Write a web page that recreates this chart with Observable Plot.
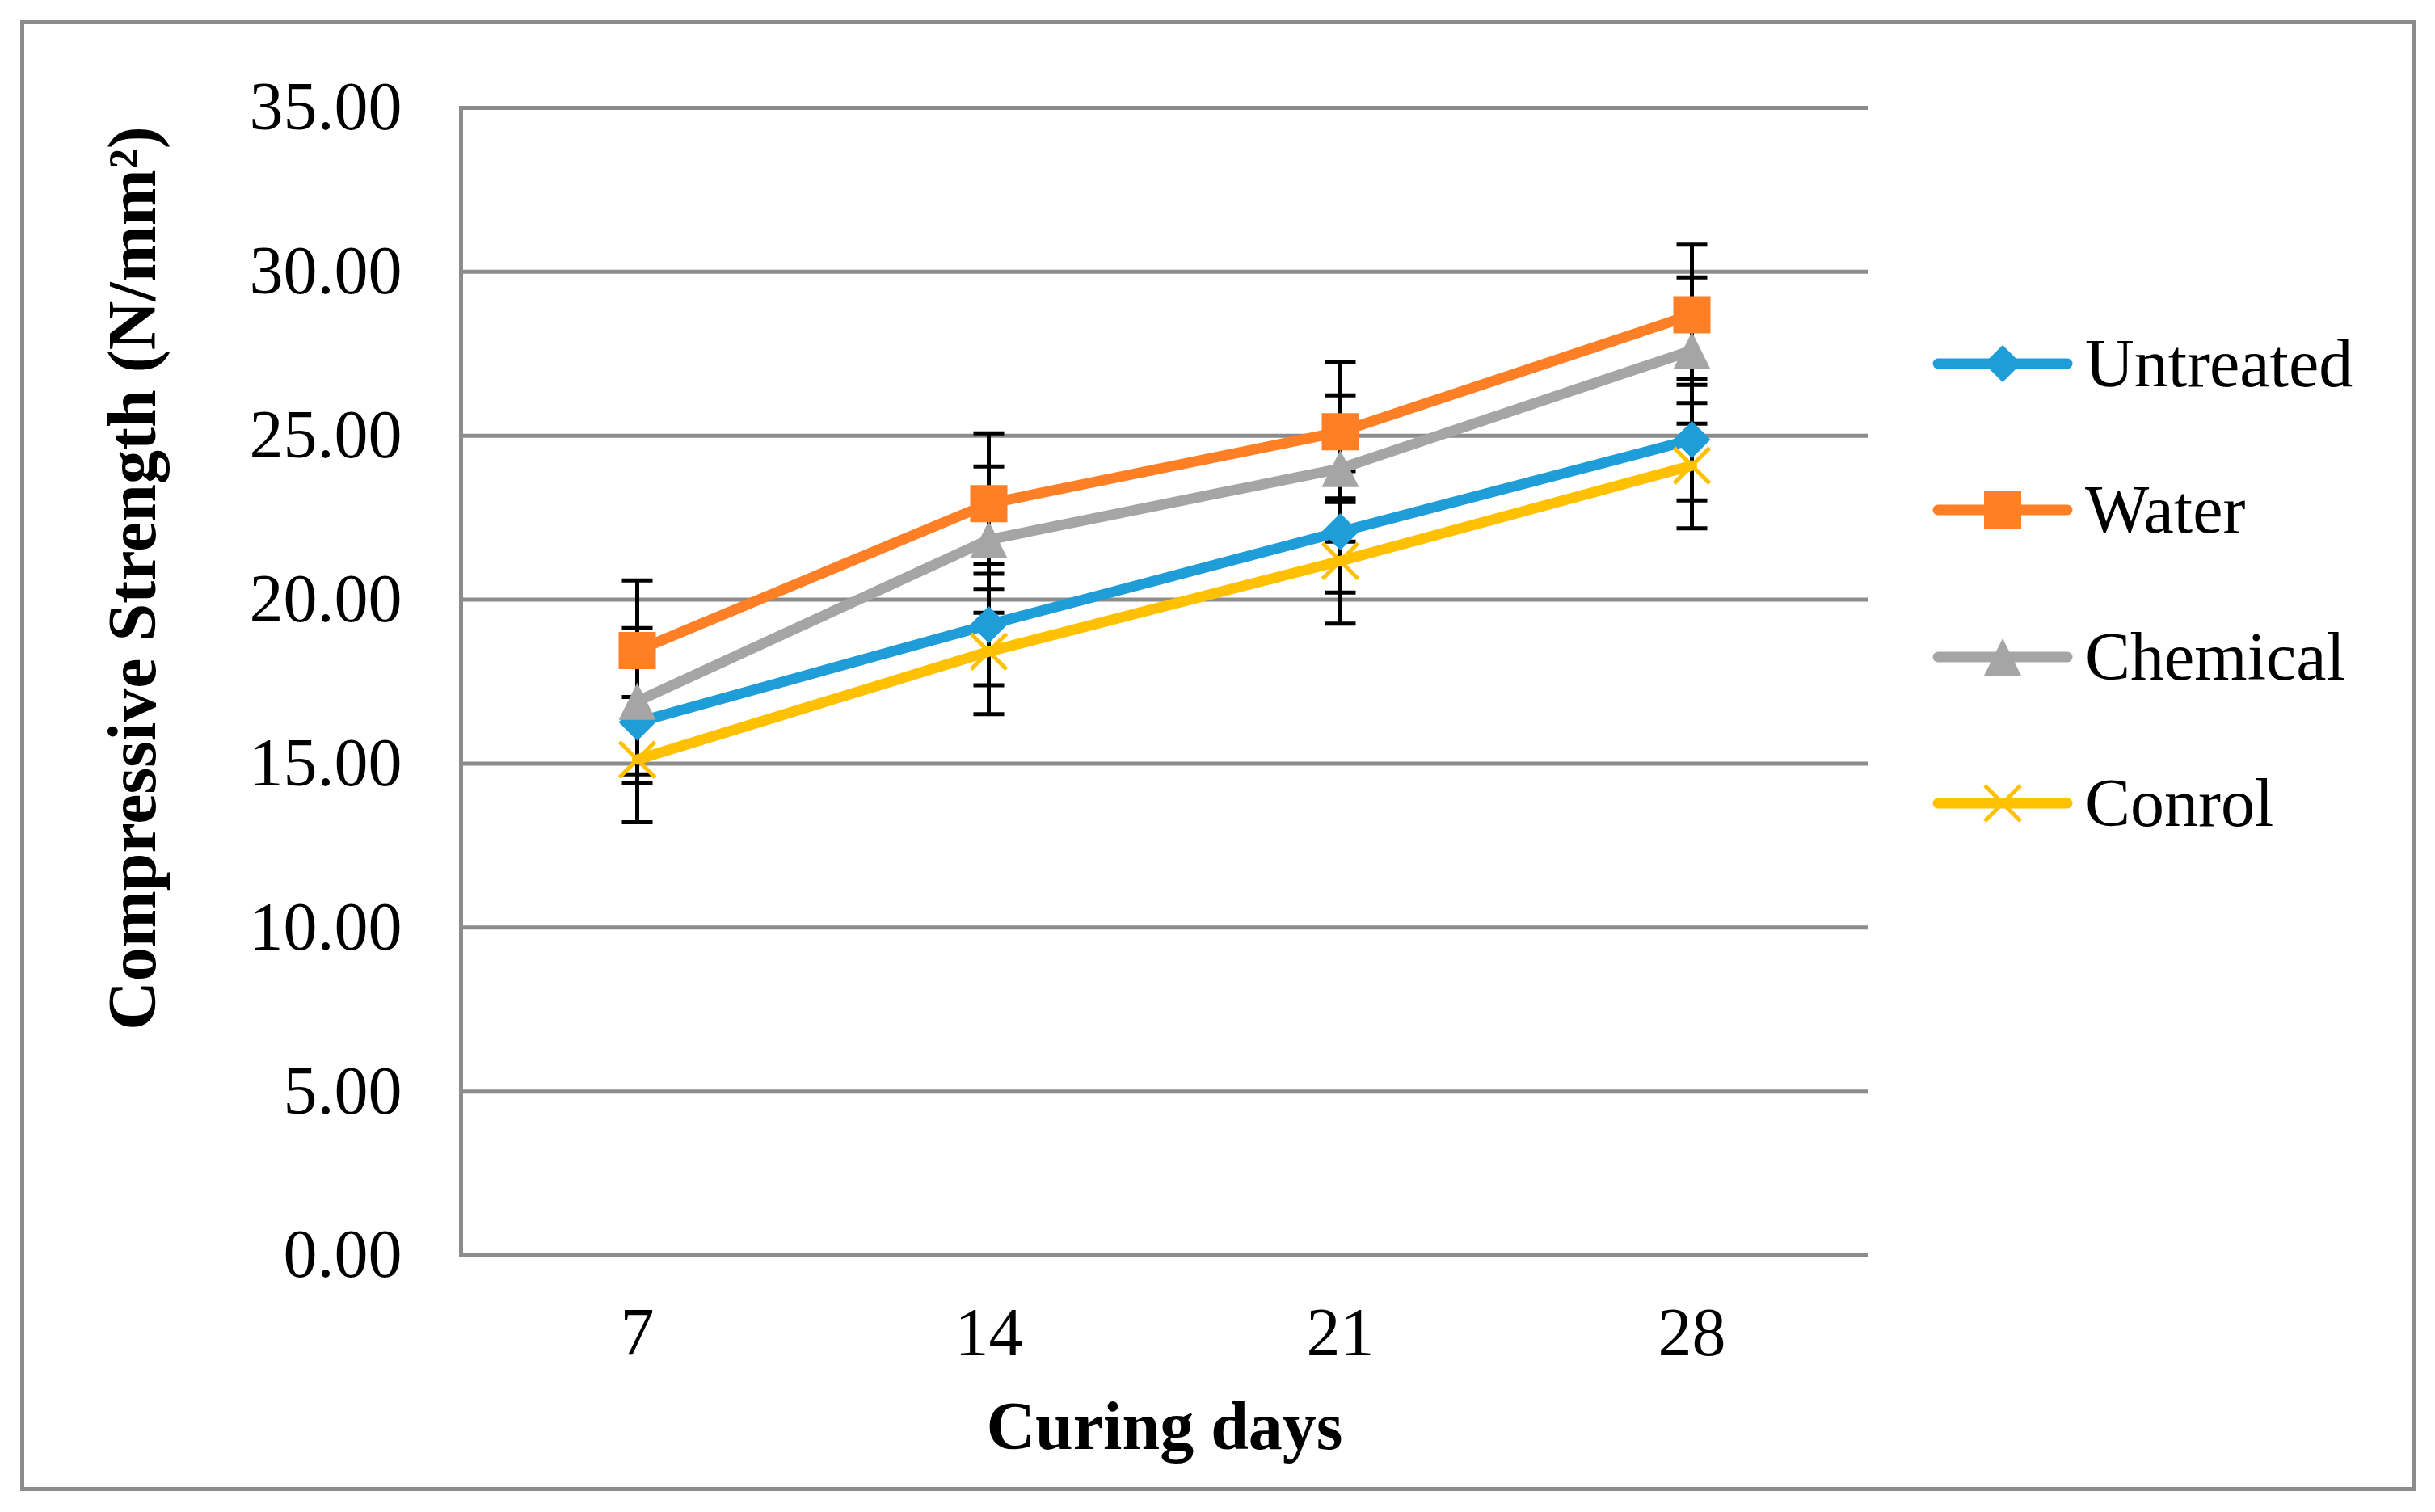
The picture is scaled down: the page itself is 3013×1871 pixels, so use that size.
<!DOCTYPE html>
<html>
<head>
<meta charset="utf-8">
<script src="https://cdn.jsdelivr.net/npm/d3@7"></script>
<script src="https://cdn.jsdelivr.net/npm/@observablehq/plot@0.6"></script>
<style>
  html, body { margin: 0; padding: 0; background: #fff; }
  #wrap { position: relative; width: 3013px; height: 1871px; background: #fff; overflow: hidden; }
  #border { position: absolute; left: 25px; top: 25px; width: 2965px; height: 1820px; border: 5px solid #8c8c8c; box-sizing: border-box; }
  #chart { position: absolute; left: 0; top: 0; }
  #chart svg [aria-label$="axis label"] text { font-weight: bold; }
  #legend { position: absolute; left: 2390px; top: 0; font-family: "Liberation Serif", "Times New Roman", serif; font-size: 84px; color: #000; }
  .lrow { position: absolute; left: 0; display: flex; align-items: center; height: 80px; white-space: nowrap; }
  .lrow svg { display: block; }
  .lrow span { margin-left: 14px; line-height: 80px; }
</style>
</head>
<body>
<div id="wrap">
  <div id="border"></div>
  <div id="chart"></div>
  <div id="legend"></div>
</div>
<script>
// ---- data ----
const days = ["7", "14", "21", "28"];
const series = ["Untreated", "Water", "Chemical", "Conrol"];
const untreated = [16.26, 19.24, 22.07, 24.88];
const water = [18.45, 22.93, 25.12, 28.69];
const chemical = [16.90, 21.83, 24.00, 27.60];
const conrol = [15.12, 18.42, 21.18, 24.09];
const errors = [1.85, 2.14, 2.23, 1.91];
const colors = ["#1F9DD9", "#FF7F27", "#A5A5A5", "#FFC000"];
const yTicks = [0, 5, 10, 15, 20, 25, 30, 35];
const yTitle = "Compressive Strength (N/mm²)";
const xTitle = "Curing days";

const values = [untreated, water, chemical, conrol];
const rows = [];
series.forEach((s, i) => days.forEach((d, j) => rows.push({series: s, day: d, value: values[i][j], err: errors[i]})));

// ---- custom symbols ----
const rad = (size) => Math.sqrt(size / Math.PI);
const diamond = {draw(c, size) { const r = rad(size); c.moveTo(0, -r); c.lineTo(r, 0); c.lineTo(0, r); c.lineTo(-r, 0); c.closePath(); }};
const square = {draw(c, size) { const r = rad(size); c.moveTo(-r, -r); c.lineTo(r, -r); c.lineTo(r, r); c.lineTo(-r, r); c.closePath(); }};
const triangle = {draw(c, size) { const r = rad(size); c.moveTo(0, -r); c.lineTo(r, r); c.lineTo(-r, r); c.closePath(); }};
const cross = {draw(c, size) { const r = rad(size); c.moveTo(-r, -r); c.lineTo(r, r); c.moveTo(-r, r); c.lineTo(r, -r); }};
const cap = {draw(c, size) { const r = rad(size); c.moveTo(-r, 0); c.lineTo(r, 0); }};
const symbols = [diamond, square, triangle, cross];

const plot = Plot.plot({
  width: 3013,
  height: 1871,
  marginLeft: 570,
  marginRight: 702,
  marginTop: 133,
  marginBottom: 318,
  style: {fontFamily: "'Liberation Serif', 'Times New Roman', serif", fontSize: "84px", background: "transparent", color: "#000"},
  x: {type: "point", domain: days, padding: 0.5},
  y: {domain: [0, 35]},
  color: {domain: series, range: colors},
  symbol: {domain: series, range: symbols},
  marks: [
    Plot.ruleY(yTicks, {stroke: "#8c8c8c", strokeWidth: 5}),
    Plot.frame({anchor: "left", stroke: "#8c8c8c", strokeWidth: 5}),
    Plot.axisY({ticks: yTicks, tickFormat: d3.format(".2f"), tickSize: 0, tickPadding: 73, fontSize: 84, label: null}),
    Plot.text([yTitle], {text: d => d, frameAnchor: "left", rotate: -90, dx: -438, dy: -128,
      lineAnchor: "top", textAnchor: "middle", fontWeight: "bold", fontSize: 84}),
    Plot.axisX({tickSize: 0, tickPadding: 64, fontSize: 84,
      label: xTitle, labelAnchor: "center", labelArrow: "none", labelOffset: 239}),
    Plot.ruleX(rows, {x: "day", y1: d => d.value - d.err, y2: d => d.value + d.err, stroke: "#000", strokeWidth: 5}),
    Plot.dot(rows, {x: "day", y: d => d.value + d.err, symbol: cap, r: 19, stroke: "#000", strokeWidth: 5}),
    Plot.dot(rows, {x: "day", y: d => d.value - d.err, symbol: cap, r: 19, stroke: "#000", strokeWidth: 5}),
    Plot.line(rows, {x: "day", y: "value", z: "series", stroke: "series", strokeWidth: 13, strokeLinejoin: "round", strokeLinecap: "round"}),
    Plot.dot(rows.filter(d => d.series !== "Conrol"), {x: "day", y: "value", symbol: "series", fill: "series", stroke: "none", r: 23}),
    Plot.dot(rows.filter(d => d.series === "Conrol"), {x: "day", y: "value", symbol: "series", stroke: "series", fill: "none", strokeWidth: 5, r: 22})
  ]
});
document.getElementById("chart").appendChild(plot);

// ---- legend ----
const legendY = [450, 631, 813, 994];
const legend = document.getElementById("legend");
series.forEach((s, i) => {
  const row = document.createElement("div");
  row.className = "lrow";
  row.style.top = (legendY[i] - 40) + "px";
  const w = 176, h = 80;
  const svg = d3.create("svg").attr("width", w).attr("height", h);
  svg.append("line").attr("x1", 8).attr("x2", w - 8).attr("y1", h / 2).attr("y2", h / 2)
    .attr("stroke", colors[i]).attr("stroke-width", 13).attr("stroke-linecap", "round");
  const p = d3.path();
  const sz = Math.PI * (i === 3 ? 22 : 23) ** 2;
  symbols[i].draw(p, sz);
  const path = svg.append("path").attr("d", p.toString()).attr("transform", `translate(${w / 2},${h / 2})`);
  if (i === 3) path.attr("fill", "none").attr("stroke", colors[i]).attr("stroke-width", 5);
  else path.attr("fill", colors[i]);
  row.appendChild(svg.node());
  const t = document.createElement("span");
  t.textContent = s;
  row.appendChild(t);
  legend.appendChild(row);
});
</script>
</body>
</html>
